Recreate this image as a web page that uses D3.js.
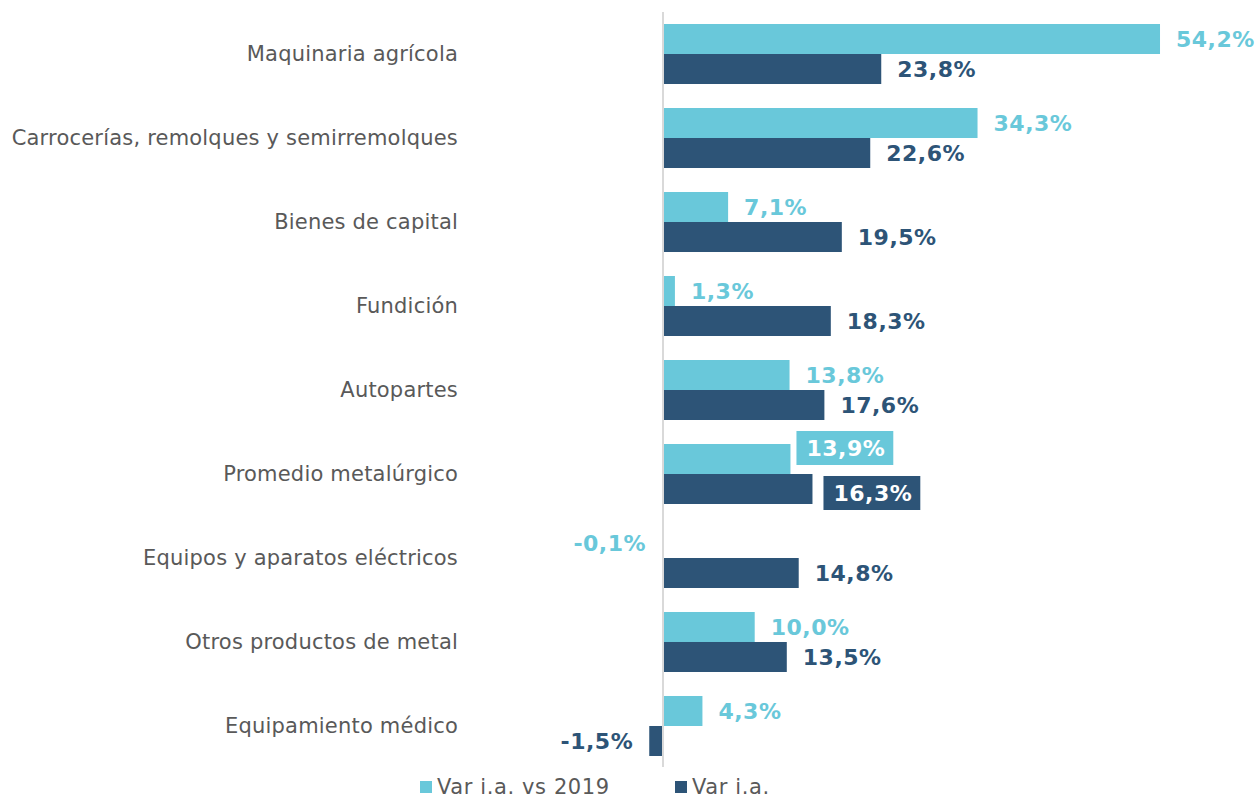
<!DOCTYPE html>
<meta charset="utf-8">
<style>
body { margin: 0; background: #fff; }
svg { display: block; font-family: "DejaVu Sans", Verdana, sans-serif; }
.cat { fill: #595959; font-size: 21px; letter-spacing: 0.2px; text-anchor: end; }
.val { font-size: 22px; font-weight: bold; letter-spacing: 0.5px; }
.legend text { fill: #595959; font-size: 21px; letter-spacing: 0.6px; }
</style>
<body>
<script src="https://cdn.jsdelivr.net/npm/d3@7"></script>
<script>
// data
var categories = [
  "Maquinaria agrícola",
  "Carrocerías, remolques y semirremolques",
  "Bienes de capital",
  "Fundición",
  "Autopartes",
  "Promedio metalúrgico",
  "Equipos y aparatos eléctricos",
  "Otros productos de metal",
  "Equipamiento médico"
];
var seriesNames = ["Var i.a. vs 2019", "Var i.a."];
var vs2019 = [54.2, 34.3, 7.1, 1.3, 13.8, 13.9, -0.1, 10.0, 4.3];
var varIa = [23.8, 22.6, 19.5, 18.3, 17.6, 16.3, 14.8, 13.5, -1.5];
var colors = ["#69C8DA", "#2D5477"];
var highlight = "Promedio metalúrgico";

var W = 1260, H = 800;
var svg = d3.select("body").append("svg")
    .attr("width", W).attr("height", H);

var x = d3.scaleLinear().domain([0, 60]).range([663, 663 + 60 * 9.17]);
var y = d3.scaleBand().domain(categories).range([12, 768])
    .paddingInner(0.2857).paddingOuter(0.1429);
var ySub = d3.scaleBand().domain([0, 1]).range([0, y.bandwidth()]);

var rows = categories.map(function(c, i) {
  return {cat: c, vals: [vs2019[i], varIa[i]]};
});

// category labels
svg.selectAll(".cat").data(categories).enter().append("text")
    .attr("class", "cat")
    .attr("x", 458)
    .attr("y", function(d) { return y(d) + y.bandwidth() / 2; })
    .attr("dy", "0.35em")
    .text(function(d) { return d; });

var g = svg.selectAll(".row").data(rows).enter().append("g")
    .attr("class", "row")
    .attr("transform", function(d) { return "translate(0," + y(d.cat) + ")"; });

var cells = g.selectAll(".cell").data(function(d) {
  return d.vals.map(function(v, s) { return {v: v, s: s, cat: d.cat}; });
}).enter().append("g").attr("class", "cell");

cells.append("rect")
    .attr("x", function(d) { return x(Math.min(0, d.v)); })
    .attr("y", function(d) { return ySub(d.s); })
    .attr("width", function(d) { return Math.abs(x(d.v) - x(0)); })
    .attr("height", ySub.bandwidth())
    .attr("fill", function(d) { return colors[d.s]; });

var fmt = function(v) { return d3.format(".1f")(v).replace(".", ",").replace("\u2212", "-") + "%"; };

cells.each(function(d) {
  var cell = d3.select(this);
  var boxed = d.cat === highlight;
  var shift = boxed ? (d.s === 0 ? -11 : 4) : 0;
  var extra = boxed && d.s === 1 ? 5 : 0;
  var tx = d.v < 0 ? x(d.v) - 16 : x(d.v) + 16 + extra;
  var ty = ySub(d.s) + ySub.bandwidth() / 2 + shift;
  var bg = cell.append("rect");
  var t = cell.append("text")
      .attr("class", "val")
      .attr("x", tx)
      .attr("y", ty)
      .attr("dy", "0.35em")
      .attr("text-anchor", d.v < 0 ? "end" : "start")
      .attr("fill", boxed ? "#fff" : colors[d.s])
      .text(fmt(d.v));
  if (boxed) {
    var b = t.node().getBBox();
    bg.attr("x", b.x - 10).attr("y", ty - 17)
      .attr("width", b.width + 18).attr("height", 34)
      .attr("fill", colors[d.s]);
  } else {
    bg.remove();
  }
});

// zero axis line
svg.append("line")
    .attr("x1", x(0)).attr("x2", x(0))
    .attr("y1", 12).attr("y2", 767)
    .attr("stroke", "#d9d9d9").attr("stroke-width", 2);

// legend
var legX = [420, 675];
var leg = svg.selectAll(".legend").data(seriesNames).enter().append("g")
    .attr("class", "legend")
    .attr("transform", function(d, i) { return "translate(" + legX[i] + ",781)"; });
leg.append("rect").attr("width", 12).attr("height", 12)
    .attr("fill", function(d, i) { return colors[i]; });
leg.append("text").attr("x", 17).attr("y", 6).attr("dy", "0.35em")
    .text(function(d) { return d; });
</script>
</body>
